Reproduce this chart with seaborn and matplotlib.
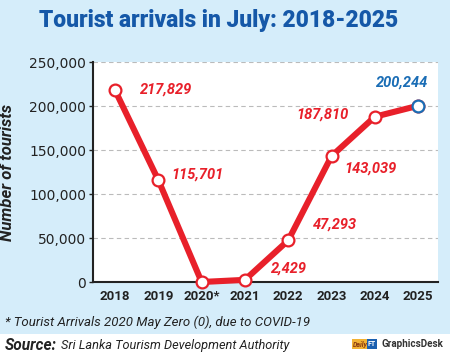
import matplotlib
matplotlib.use("Agg")
import matplotlib.pyplot as plt
import seaborn as sns
import pandas as pd
from matplotlib.patches import Rectangle

years = ["2018", "2019", "2020*", "2021", "2022", "2023", "2024", "2025"]
arrivals = [217829, 115701, 0, 2429, 47293, 143039, 187810, 200244]
labels = ["217,829", "115,701", "", "2,429", "47,293", "143,039", "187,810", "200,244"]
yticks = [0, 50000, 100000, 150000, 200000, 250000]
ytick_labels = ["0", "50,000", "100,000", "150,000", "200,000", "250,000"]

# label offsets in pixels (dx, dy)
offsets = [(51, 1), (39, 6), None, (44, 11), (47, 16), (39, -12), (-52, 2), (-16, 23)]

BG = "#d5edfa"
RED = "#e8202a"
BLUE = "#1a6db5"
TITLE = "#1558a8"
NARROW = ["Roboto", "DejaVu Sans"]

sns.set_theme(style="white")
fig = plt.figure(figsize=(4.5, 3.55), dpi=100, facecolor=BG)
fig.patches.append(Rectangle((0, 0), 1, 1 - 334 / 355, transform=fig.transFigure,
                             facecolor="white", edgecolor="none", zorder=0))
ax = fig.add_axes([93 / 450, 1 - 282 / 355, (438 - 93) / 450, (282 - 62) / 355])
ax.set_facecolor("white")

df = pd.DataFrame({"idx": range(len(years)), "val": arrivals})
sns.lineplot(data=df, x="idx", y="val", ax=ax, color=RED, lw=4.4,
             marker="o", markersize=8.5, markerfacecolor="white",
             markeredgecolor=RED, markeredgewidth=1.6, clip_on=False, zorder=3)
last = df.iloc[[-1]]
ax.plot(last["idx"], last["val"], "o", ms=8.5, mfc="white", mec=BLUE, mew=1.6,
        clip_on=False, zorder=4)

for i, (v, lab, off) in enumerate(zip(arrivals, labels, offsets)):
    if off is None:
        continue
    ax.annotate(lab, (i, v), xytext=(off[0] * 0.72, off[1] * 0.72),
                textcoords="offset points", ha="center", va="center",
                color=BLUE if i == len(years) - 1 else RED,
                fontsize=10.5, fontweight="bold", fontstyle="italic",
                family=NARROW)

ax.set_xlim(-0.51, 7.46)
ax.set_ylim(0, 250000)
ax.set_xticks(range(len(years)))
ax.set_xticklabels(years, fontsize=9.5, fontweight="bold", family=NARROW, color="#222222")
ax.set_yticks(yticks)
ax.set_yticklabels(ytick_labels, fontsize=10, color="#222222")
ax.tick_params(axis="x", length=0, pad=6)
ax.tick_params(axis="y", length=3, width=1, color="#222222", pad=2, left=True)
for y in yticks[1:]:
    ax.axhline(y, color="#bbbbbb", lw=0.8, ls=(0, (4, 3)), zorder=1)
for s in ["top", "right"]:
    ax.spines[s].set_visible(False)
for s in ["left", "bottom"]:
    ax.spines[s].set_color("#222222")
    ax.spines[s].set_linewidth(1.5)
ax.set_xlabel("")
ax.set_ylabel("Number of tourists", fontsize=12, fontweight="bold",
              fontstyle="italic", family=NARROW, color="#222222")
ax.yaxis.set_label_coords(-0.225, 0.5)

renderer = fig.canvas.get_renderer()


def fit(t, width_px):
    for _ in range(3):
        w = t.get_window_extent(renderer).width
        t.set_fontsize(t.get_fontsize() * width_px / w)


title = fig.text(219 / 450, 1 - 21 / 355, "Tourist arrivals in July: 2018-2025",
                 ha="center", va="center", fontsize=16, fontweight="heavy",
                 family=NARROW, color=TITLE)
fit(title, 358)
foot = fig.text(5 / 450, 1 - 322 / 355, "* Tourist Arrivals 2020 May Zero (0), due to COVID-19",
                ha="left", va="center", fontsize=10, fontstyle="italic", family=NARROW,
                color="#222222")
fit(foot, 305)
src_b = fig.text(5 / 450, 1 - 345 / 355, "Source:", ha="left", va="center", fontsize=10,
                 fontweight="bold", fontstyle="italic", family=NARROW, color="#222222")
fit(src_b, 52)
src = fig.text(61 / 450, 1 - 345 / 355, "Sri Lanka Tourism Development Authority",
               ha="left", va="center", fontsize=10, fontstyle="italic", family=NARROW,
               color="#222222")
fit(src, 228)
fig.text(353 / 450, 1 - 344 / 355, "Daily", ha="left", va="center", fontsize=5,
         fontweight="bold", fontstyle="italic", color="#8a3a10", family=NARROW,
         bbox=dict(boxstyle="square,pad=0.15", fc="#f2b233", ec="none"))
fig.text(368 / 450, 1 - 344 / 355, "FT", ha="left", va="center", fontsize=5,
         fontweight="bold", color="white", family=NARROW,
         bbox=dict(boxstyle="square,pad=0.15", fc="#1a5fb0", ec="none"))
gd = fig.text(381 / 450, 1 - 344 / 355, "GraphicsDesk", ha="left", va="center",
              fontsize=7.5, fontweight="bold", color="#333333", family=NARROW)
fit(gd, 62)

fig.savefig("out.png", dpi=100, facecolor=BG)
